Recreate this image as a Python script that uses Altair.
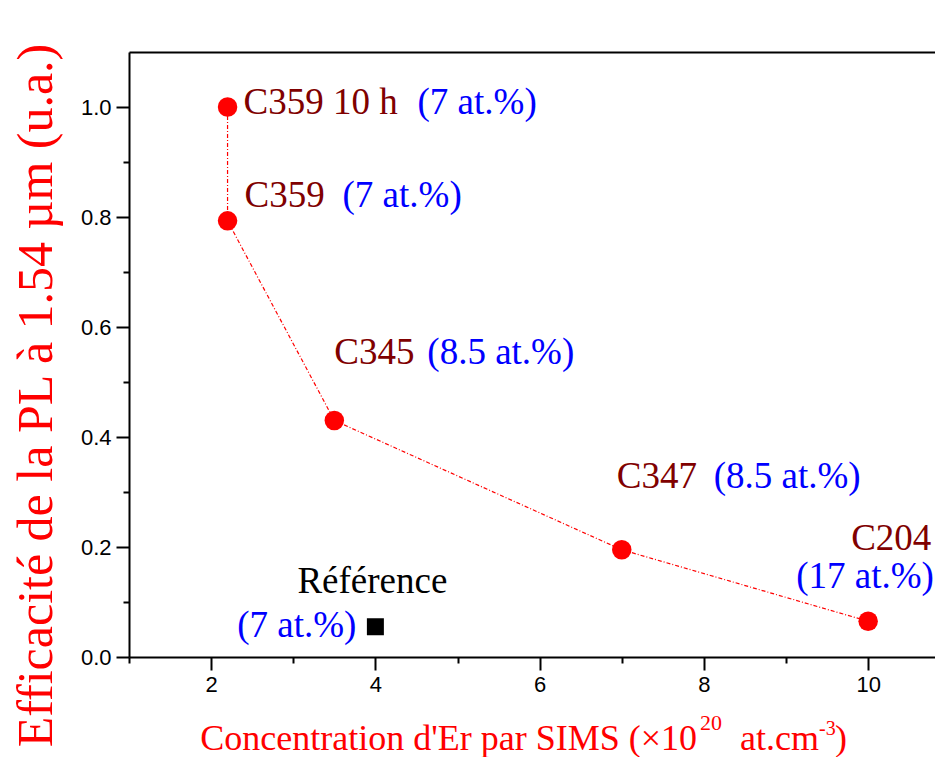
import altair as alt
import pandas as pd

# ---------------- data ----------------
samples = ["C359 10 h", "C359", "C345", "C347", "C204"]
concentration = [2.2, 2.2, 3.5, 7.0, 10.0]
efficiency = [1.0, 0.793, 0.43, 0.195, 0.065]
at_percent = ["(7 at.%)", "(7 at.%)", "(8.5 at.%)", "(8.5 at.%)", "(17 at.%)"]

ref_name = ["Référence"]
ref_concentration = [4.0]
ref_efficiency = [0.055]
ref_at_percent = ["(7 at.%)"]

x_major = [2, 4, 6, 8, 10]
x_minor = [1, 3, 5, 7, 9]
y_major = [0.0, 0.2, 0.4, 0.6, 0.8, 1.0]
y_minor = [0.1, 0.3, 0.5, 0.7, 0.9]

x_title_main = "Concentration d'Er par SIMS (×10"
x_title_exp1 = "20"
x_title_mid = "at.cm"
x_title_exp2 = "-3"
x_title_end = ")"
y_title = "Efficacité de la PL à 1.54 µm (u.a.)"

# ---------------- tables ----------------
df = pd.DataFrame({
    "sample": samples,
    "conc": concentration,
    "eff": efficiency,
    "pct": at_percent,
    "order": list(range(len(samples))),
})
ref = pd.DataFrame({"sample": ref_name, "conc": ref_concentration,
                    "eff": ref_efficiency, "pct": ref_at_percent})
one = pd.DataFrame({"a": [0]})

SERIF = "Liberation Serif"
SANS = "Liberation Sans"
RED = "#ff0000"
DARKRED = "#800000"
BLUE = "#0000ff"
LBL = 37

xscale = alt.Scale(domain=[1, 10.814], nice=False, zero=False)
yscale = alt.Scale(domain=[0, 1.1], nice=False, zero=False)

axis_common = dict(grid=False, domainColor="black", tickColor="black",
                   domainWidth=2, tickWidth=2, labelFont=SANS,
                   labelFontSize=22, labelColor="black")

x_major_axis = alt.Axis(values=x_major, tickSize=13, labelPadding=4,
                        title=None, orient="bottom", **axis_common)
y_major_axis = alt.Axis(values=y_major, format=".1f", tickSize=13,
                        labelPadding=5, orient="left",
                        title=y_title, titleFont=SERIF, titleFontSize=50,
                        titleFontWeight="normal", titleColor=RED,
                        titleX=-78, titleY=343, titleAngle=270,
                        titleAlign="center", titleBaseline="alphabetic",
                        **axis_common)
x_minor_axis = alt.Axis(values=x_minor, tickSize=6, labels=False, domain=False,
                        title=None, orient="bottom", grid=False,
                        tickColor="black", tickWidth=2)
y_minor_axis = alt.Axis(values=y_minor, tickSize=6, labels=False, domain=False,
                        title=None, orient="left", grid=False,
                        tickColor="black", tickWidth=2)

# main line (carries the major axes)
line = alt.Chart(df).mark_line(color=RED, strokeWidth=1.2,
                               strokeDash=[4, 2, 1, 2]).encode(
    x=alt.X("conc:Q", scale=xscale, axis=x_major_axis),
    y=alt.Y("eff:Q", scale=yscale, axis=y_major_axis),
    order="order:Q",
)

# invisible layer carrying the minor ticks
minor = alt.Chart(df).mark_point(opacity=0).encode(
    x=alt.X("conc:Q", scale=xscale, axis=x_minor_axis),
    y=alt.Y("eff:Q", scale=yscale, axis=y_minor_axis),
)

# top frame line
top = alt.Chart(df).mark_point(opacity=0).encode(
    x=alt.X("conc:Q", scale=xscale,
            axis=alt.Axis(orient="top", ticks=False, labels=False, grid=False,
                          domainColor="black", domainWidth=2, title=None)),
    y=alt.Y("eff:Q", scale=yscale, axis=None),
)

noax_x = alt.X("conc:Q", scale=xscale, axis=None)
noax_y = alt.Y("eff:Q", scale=yscale, axis=None)

points = alt.Chart(df).mark_circle(color=RED, opacity=1, size=380).encode(
    x=noax_x, y=noax_y)
refpt = alt.Chart(ref).mark_square(color="black", opacity=1, size=289).encode(
    x=noax_x, y=noax_y)

# label offsets (pixels) for each sample: (name dx, name dy, pct dx, pct dy)
label_offsets = [
    (16, 7, 190, 7),
    (17, -14, 115, -14),
    (0, -57, 93, -57),
    (-5, -62, 92, -62),
    (-17, -71, -72, -33),
]

labels = []
for i, (ndx, ndy, pdx, pdy) in enumerate(label_offsets):
    row = df.iloc[[i]]
    labels.append(alt.Chart(row).mark_text(
        font=SERIF, fontSize=LBL, color=DARKRED, align="left",
        baseline="alphabetic", dx=ndx, dy=ndy).encode(
        x=noax_x, y=noax_y, text="sample:N"))
    labels.append(alt.Chart(row).mark_text(
        font=SERIF, fontSize=LBL, color=BLUE, align="left",
        baseline="alphabetic", dx=pdx, dy=pdy).encode(
        x=noax_x, y=noax_y, text="pct:N"))

labels.append(alt.Chart(ref).mark_text(
    font=SERIF, fontSize=LBL, color="black", align="left",
    baseline="alphabetic", dx=-78, dy=-34).encode(
    x=noax_x, y=noax_y, text="sample:N"))
labels.append(alt.Chart(ref).mark_text(
    font=SERIF, fontSize=LBL, color=BLUE, align="right",
    baseline="alphabetic", dx=-19, dy=10).encode(
    x=noax_x, y=noax_y, text="pct:N"))

# composite x-axis title with superscripts
def tpart(text, x, y, size, align="left"):
    return alt.Chart(one).mark_text(
        font=SERIF, fontSize=size, color=RED, align=align,
        baseline="alphabetic").encode(
        x=alt.value(x), y=alt.value(y), text=alt.value(text))

TB = 698
xt = [
    tpart(x_title_main, 568, TB, 36, align="right"),
    tpart(x_title_exp1, 571, TB - 20, 22),
    tpart(x_title_mid, 611, TB, 36),
    tpart(x_title_exp2, 690, TB - 15, 20),
    tpart(x_title_end, 706, TB, 36),
]

chart = alt.layer(line, minor, top, points, refpt, *labels, *xt).resolve_axis(
    x="independent", y="independent"
).properties(
    width=806, height=605,
    autosize=alt.AutoSizeParams(type="none"),
    padding={"left": 121, "top": 44, "right": 0, "bottom": 100},
    background="white",
).configure_view(stroke=None)

chart.save("out.html", embed_options={"renderer": "svg", "actions": False})
